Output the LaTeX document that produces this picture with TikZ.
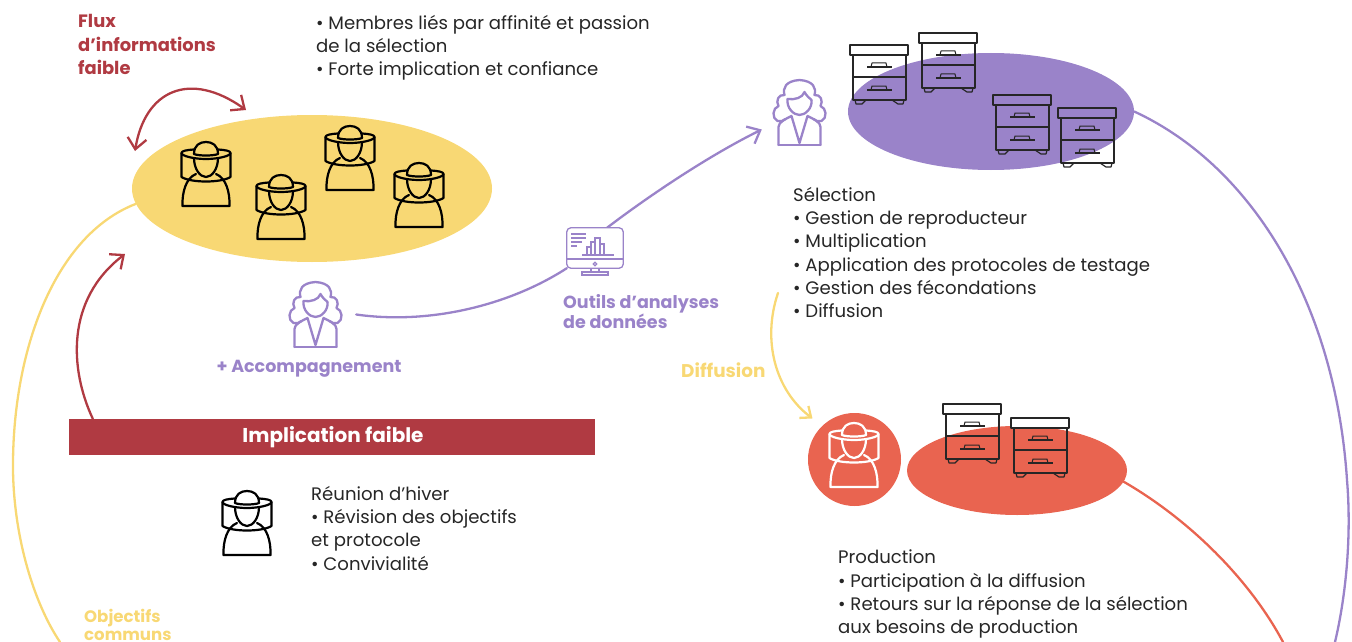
\documentclass[tikz,border=0pt]{standalone}
\usepackage{fontspec}
\setmainfont{Poppins}
\usetikzlibrary{arrows.meta,shapes.geometric}
\definecolor{cyel}{HTML}{F8D874}
\definecolor{cpur}{HTML}{9A83C9}
\definecolor{cred}{HTML}{E96450}
\definecolor{cdark}{HTML}{B03A42}
\tikzset{
  x=1pt,y=-1pt,
  body/.style={font=\fontsize{18.1}{23.3}\selectfont,text=black!85,align=left,anchor=north west,inner sep=0pt},
  lab/.style={font=\fontsize{17.9}{23.3}\selectfont\bfseries,align=left,anchor=north west,inner sep=0pt},
  labt/.style={font=\fontsize{17.5}{18.5}\selectfont\bfseries,align=left,anchor=north west,inner sep=0pt},
  blob/.style={ellipse,inner sep=0pt,draw=none},
  barb/.style={-{Straight Barb[length=11pt,width=19pt,line width=2.3pt]}},
  link/.style={line width=2.3pt,line cap=round},
  pics/keeper/.style={code={
    \begin{scope}[draw=#1,line width=2.2pt,line join=round,line cap=round]
      \draw (-12,7.5) .. controls (-20,8) and (-24.5,9) .. (-24.5,11) .. controls (-24.5,14) and (-12,17) .. (0,17) .. controls (12,17) and (24.5,14) .. (24.5,11) .. controls (24.5,9) and (20,8) .. (12,7.5);
      \draw (-12,12) .. controls (-12,3) and (-6,0) .. (0,0) .. controls (6,0) and (12,3) .. (12,12);
      \draw (-12,12) .. controls (-8,14) and (8,14) .. (12,12);
      \draw (-12,16) .. controls (-12,27) and (-6,35) .. (0,35) .. controls (6,35) and (12,27) .. (12,16);
      \draw (-24.5,11) -- (-24.5,35) .. controls (-15,41) and (15,41) .. (24.5,35) -- (24.5,11);
      \draw (-10,32) .. controls (-20,36) and (-24,50) .. (-23.5,64) -- (23.5,64) .. controls (24,50) and (20,36) .. (10,32);
    \end{scope}}},
  pics/hive/.style={code={
    \begin{scope}[line width=1.5pt,draw=black!85,line join=round]
      \draw (0,0) rectangle (58,10);
      \draw (3,10) rectangle (56,55);
      \draw (3,32) -- (56,32);
      \foreach \yy in {22,45}{
        \draw (17,\yy) -- (42,\yy);
        \draw[line width=1pt] (21,\yy) -- (22,\yy-4) -- (36,\yy-4) -- (37,\yy);
      }
      \draw[line width=1.2pt] (5,55) -- (6,59) -- (12,59) -- (16,55);
      \draw[line width=1.2pt] (42,55) -- (48,59) -- (53,59) -- (54,55);
    \end{scope}}},
  pics/adviser/.style={code={
    \begin{scope}[draw=cpur,line width=2.3pt,line join=round,line cap=round]
      \draw (-21,65) -- (21,65);
      \draw (-21,65) -- (-21,47) .. controls (-21,42) and (-14,39) .. (-8,36) -- (0,63) -- (8,36) .. controls (14,39) and (21,42) .. (21,47) -- (21,65);
      \draw (-12,19) .. controls (-13,28) and (-6,35) .. (0,35) .. controls (6,35) and (13,28) .. (12,20);
      \draw (-12,19) .. controls (-5,20) and (3,18) .. (5,12) .. controls (7,16) and (10,18) .. (12,20);
      \draw (-14,39) .. controls (-16,41) and (-19,42) .. (-22,41) .. controls (-28,38) and (-27,28) .. (-21,26) .. controls (-24,21) and (-21,14) .. (-15,15) .. controls (-17,8) and (-14,1) .. (0,0) .. controls (14,1) and (17,8) .. (15,15) .. controls (21,14) and (24,21) .. (21,26) .. controls (27,28) and (28,38) .. (22,41) .. controls (19,42) and (16,41) .. (14,39);
    \end{scope}}},
}
\begin{document}
\begin{tikzpicture}
\useasboundingbox (0,0) rectangle (1352,642);
% blobs
\node[blob,fill=cyel,minimum width=360pt,minimum height=147pt] (yel) at (312,188.5) {};
\node[blob,fill=cpur,minimum width=286pt,minimum height=117pt] (pur) at (991,111.5) {};
\node[blob,fill=cred,minimum width=220pt,minimum height=89pt] (redb) at (1017,470.5) {};
\node[circle,fill=cred,inner sep=0pt,minimum size=93pt] (redc) at (854.5,459.5) {};
% bar
\node[fill=cdark,minimum width=526pt,minimum height=36pt,inner sep=0pt] (bar) at (332,437) {};
\node[text=white,inner sep=0pt,font=\fontsize{20}{22}\selectfont\bfseries] (bart) at (333,437.5) {Implication faible};
% anchors
\node[minimum width=53pt,minimum height=65pt,inner sep=0pt] (w1) at (315.5,314.5) {};
\node[minimum width=53pt,minimum height=65pt,inner sep=0pt] (w2) at (799.5,112.5) {};
\node[minimum width=56pt,minimum height=40pt,inner sep=0pt] (mon) at (595,248) {};
\coordinate (yelend) at (60,642);
\coordinate (purend) at (1335,642);
\coordinate (redend) at (1283,642);
\coordinate (dstart) at (778,293);
\coordinate (lu) at (135,151);
\coordinate (lv) at (246,110);
% connectors
\draw[link,cyel] (yel.185) .. controls (55,235) and (12,350) .. (13,470) .. controls (14,540) and (35,605) .. (yelend);
\draw[link,cpur] (pur.0) .. controls (1250,165) and (1335,300) .. (1347,480) .. controls (1352,540) and (1345,600) .. (purend);
\draw[link,cred] (redb.-6) .. controls (1190,520) and (1250,580) .. (redend);
\draw[link,cyel,-{Straight Barb[length=9pt,width=15pt,line width=2.3pt]}] (dstart) .. controls (762,340) and (775,390) .. ([shift={(-9,-8)}]redc.135);
\draw[link,cdark,barb] ([xshift=24pt]bar.north west) .. controls (70,370) and (65,300) .. (125,254);
\draw[link,cdark,{Straight Barb[length=11pt,width=19pt,line width=2.3pt]}-{Straight Barb[length=11pt,width=19pt,line width=2.3pt]}] (lu) .. controls (145,90) and (190,70) .. (lv);
\draw[link,cpur] ([xshift=14pt]w1.east) .. controls (430,325) and (510,305) .. (mon.south west);
\draw[link,cpur,barb] ([xshift=12pt]mon.north) .. controls (650,195) and (710,155) .. ([shift={(-11,17)}]w2.west);
% icons
\pic at (206,142) {keeper=black};
\pic at (281,175) {keeper=black};
\pic at (350,126) {keeper=black};
\pic at (419,163) {keeper=black};
\pic at (247,491) {keeper=black};
\pic at (854,423) {keeper=white};
\pic at (315.5,282) {adviser};
\pic at (799.5,80) {adviser};
\fill[white] (1011,418) rectangle (1069,428);
\pic at (850,45) {hive};
\pic at (919,33) {hive};
\pic at (993,95) {hive};
\pic at (1058,108) {hive};
\pic at (943,404) {hive};
\pic at (1011,418) {hive};
% monitor
\begin{scope}[draw=cpur,line width=1.3pt]
\draw[rounded corners=4pt,fill=white] (mon.north west) rectangle (mon.south east);
\draw (567,259) -- (623,259);
\draw (595,264) circle (1.7);
\draw (591,268) -- (591,272) -- (599,272) -- (599,268);
\draw (582,272) rectangle (608,275);
\draw (571,234) -- (586,234) (571,238) -- (586,238) (571,242) -- (582,242) (571,246) -- (577,246);
\draw (582,255) -- (614,255);
\draw (587,255) -- (587,247) -- (591,247) -- (591,255);
\draw (591,255) -- (591,242) -- (595,242) -- (595,255);
\draw (595,255) -- (595,238) -- (600,238) -- (600,255);
\draw (600,255) -- (600,244) -- (604,244) -- (604,255);
\end{scope}
% texts
\node[lab,text=cdark] (t1) at (78,14.5) {Flux\\d’informations\\faible};
\node[body] (t2) at (316,15) {• Membres liés par affinité et passion\\de la sélection\\• Forte implication et confiance};
\node[body] (t3) at (793,187) {Sélection\\• Gestion de reproducteur\\• Multiplication\\• Application des protocoles de testage\\• Gestion des fécondations\\• Diffusion};
\node[body] (t4) at (838,550) {Production\\• Participation à la diffusion\\• Retours sur la réponse de la sélection\\aux besoins de production};
\node[body] (t5) at (311,486) {Réunion d’hiver\\• Révision des objectifs\\et protocole\\• Convivialité};
\node[labt,text=cpur] (t6) at (563,294) {Outils d’analyses\\de données};
\node[lab,text=cpur,anchor=center,font=\fontsize{17.5}{23.3}\selectfont\bfseries] (t7) at (309,369) {+ Accompagnement};
\node[lab,text=cyel,anchor=west,font=\fontsize{18.4}{23.3}\selectfont\bfseries] (t8) at (681,370.5) {Diffusion};
\node[labt,text=cyel,font=\fontsize{16.6}{17.5}\selectfont\bfseries] (t9) at (84,609) {Objectifs\\communs};
\end{tikzpicture}
\end{document}
